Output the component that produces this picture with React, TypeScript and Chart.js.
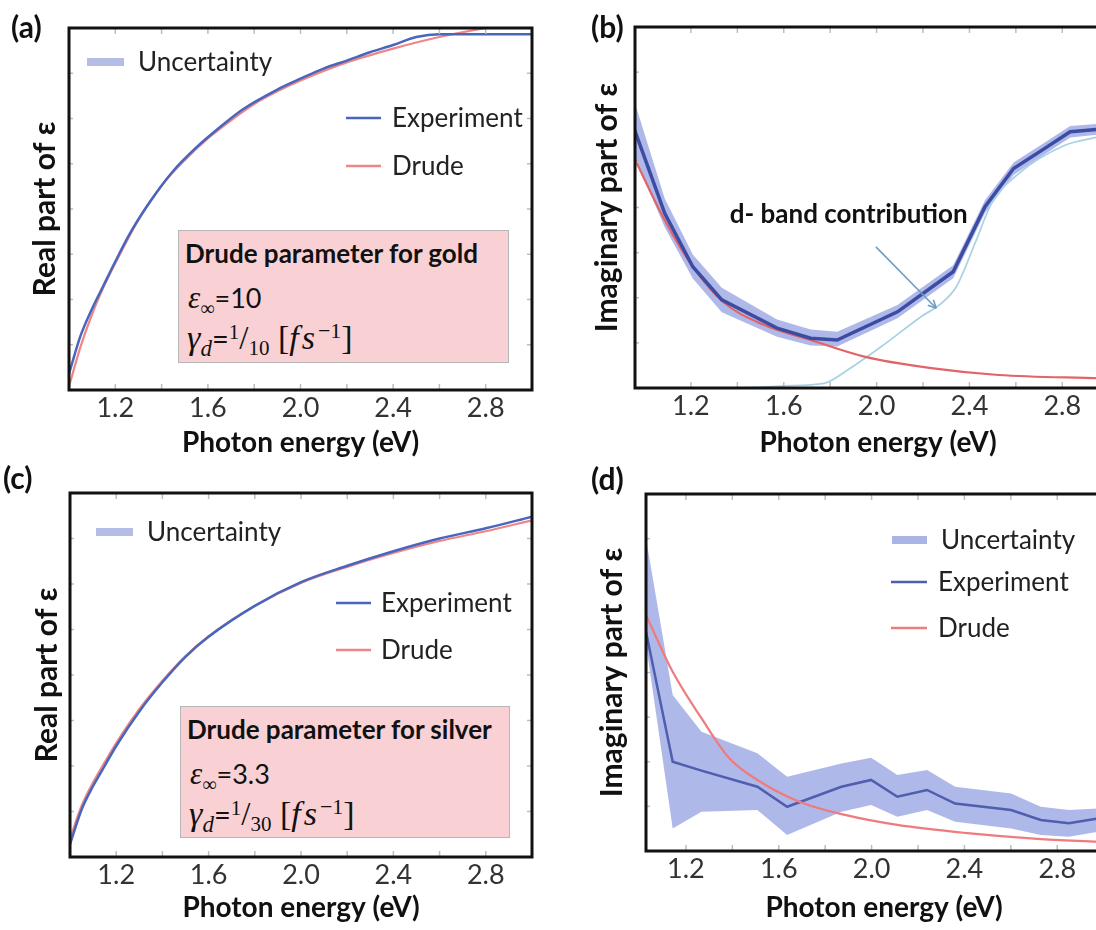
import React, { useEffect, useRef } from 'react';
import { Chart, registerables } from 'chart.js';

Chart.register(...registerables);
Chart.defaults.font.family = 'Lato';

// ---------------- data ----------------
const X_LABEL_TICKS = [1.2, 1.6, 2.0, 2.4, 2.8];
const X_MINOR_TICKS = [1.2, 1.4, 1.6, 1.8, 2.0, 2.2, 2.4, 2.6, 2.8];
const Y_MINOR_TICKS = [12.5, 25, 37.5, 50, 62.5, 75, 87.5];

// (a) gold, real part (arbitrary units, 0 = bottom of axis, 100 = top)
const GOLD_RE_EXP_E = [1.0, 1.05, 1.1, 1.15, 1.2, 1.27, 1.35, 1.45, 1.55, 1.65, 1.75, 1.9, 2.0, 2.1, 2.2, 2.3, 2.4, 2.5, 2.6, 2.8, 3.0];
const GOLD_RE_EXP_V = [4.5, 15, 22.5, 29, 35.5, 44, 52, 60.5, 67, 72.5, 77.5, 83, 86, 88.8, 91, 93.3, 95.3, 97.5, 98.3, 98.3, 98.3];
const GOLD_RE_DRUDE_E = [1.0, 1.05, 1.1, 1.15, 1.2, 1.3, 1.4, 1.5, 1.6, 1.7, 1.8, 1.9, 2.0, 2.2, 2.4, 2.6, 2.8, 3.0];
const GOLD_RE_DRUDE_V = [1, 12, 21, 28.5, 35, 47, 56.5, 63.5, 69.5, 74.5, 79, 82.5, 85.5, 90.5, 94.3, 97.5, 100, 102];

// (b) gold, imaginary part
const GOLD_IM_EXP_E = [0.957, 1.087, 1.208, 1.333, 1.571, 1.716, 1.83, 2.09, 2.33, 2.467, 2.59, 2.713, 2.834, 2.96];
const GOLD_IM_EXP_V = [71.5, 48.4, 33.6, 24.4, 16.6, 13.8, 13.3, 21.1, 32.2, 50.2, 60.8, 65.9, 71, 71.7];
const GOLD_IM_UP_V = [79.3, 52.5, 37, 27.8, 19, 16.2, 15.6, 23, 34, 52, 62.5, 67.5, 72.6, 73.2];
const GOLD_IM_LO_V = [64.1, 44.5, 30.3, 21, 14.2, 11.8, 11.5, 19.3, 30.4, 48.5, 59, 64.3, 69.4, 70.2];
const GOLD_IM_DRUDE_E = [0.957, 1.087, 1.208, 1.338, 1.513, 1.716, 1.947, 2.236, 2.525, 2.96];
const GOLD_IM_DRUDE_V = [63.6, 46.5, 33.6, 23.9, 17.5, 13.3, 8.7, 5.5, 3.6, 2.7];
const GOLD_IM_DBAND_E = [0.957, 1.41, 1.6, 1.773, 1.875, 2.019, 2.193, 2.28, 2.344, 2.424, 2.496, 2.612, 2.814, 2.96];
const GOLD_IM_DBAND_V = [0, 0, 0.6, 1.3, 5, 11.4, 19.8, 23.5, 28.1, 40.1, 51.2, 59.4, 67.3, 69.6];

// (c) silver, real part
const SILVER_RE_EXP_E = [1.0, 1.05, 1.1, 1.15, 1.2, 1.3, 1.4, 1.5, 1.6, 1.8, 2.0, 2.2, 2.4, 2.6, 2.8, 3.0];
const SILVER_RE_EXP_V = [3.5, 13, 19.5, 25, 30.5, 40, 48, 55, 60.5, 69, 75.5, 80, 84, 87.5, 90.3, 93.5];
const SILVER_RE_DRUDE_E = [1.0, 1.05, 1.1, 1.15, 1.2, 1.3, 1.4, 1.5, 1.6, 1.8, 2.0, 2.2, 2.4, 2.6, 2.8, 3.0];
const SILVER_RE_DRUDE_V = [5, 14, 20.5, 26, 31.3, 40.6, 48.4, 55.2, 60.7, 69, 75.3, 79.7, 83.5, 86.8, 89.5, 92.5];

// (d) silver, imaginary part
const SILVER_IM_EXP_E = [1.028, 1.143, 1.267, 1.508, 1.636, 1.87, 1.998, 2.111, 2.239, 2.36, 2.601, 2.729, 2.85, 2.975];
const SILVER_IM_EXP_V = [61.4, 25, 22.5, 18, 12.4, 18, 19.9, 15.2, 17.1, 13.3, 11.5, 8.7, 7.8, 9.1];
const SILVER_IM_UP_V = [87.6, 43.7, 33.4, 27.4, 20.8, 24.5, 26.1, 21.3, 22.7, 18, 16.1, 12.4, 11.5, 11.9];
const SILVER_IM_LO_V = [58, 6.3, 11, 11.5, 4.5, 11, 12.9, 9.6, 11.5, 8.2, 6.3, 4.5, 4.0, 5.4];
const SILVER_IM_DRUDE_E = [1.028, 1.143, 1.267, 1.387, 1.508, 1.689, 1.885, 2.111, 2.413, 2.714, 2.975];
const SILVER_IM_DRUDE_V = [66.1, 50.2, 37.2, 26, 19.9, 13.8, 10.1, 7.3, 5, 3.4, 2.6];

// ---------------- helpers ----------------
const pts = (e: number[], v: number[]) => e.map((x, i) => ({ x, y: v[i] }));

const BAND = 'rgba(95,115,212,0.5)';
const FONT = 'Lato';
const MATH = '"Liberation Serif", "DejaVu Serif", serif';

type LegendItem = { label: string; kind: 'band' | 'line'; color: string; x1: number; x2: number; y: number; tx: number };
type Note = { text: string; tx: number; ty: number; ax0: number; ay0: number; ax1: number; ay1: number };

const decorPlugin = {
  id: 'decor',
  afterDatasetsDraw(chart: any, _args: any, opts: any) {
    const { ctx, chartArea: a, scales } = chart;
    const xs = scales.x;
    const ys = scales.y;
    const seg = (x0: number, y0: number, x1: number, y1: number) => {
      ctx.beginPath();
      ctx.moveTo(x0, y0);
      ctx.lineTo(x1, y1);
      ctx.stroke();
    };
    ctx.save();
    // minor ticks (inside)
    ctx.strokeStyle = '#bdbdbd';
    ctx.lineWidth = 1.5;
    for (const v of X_MINOR_TICKS) {
      const px = xs.getPixelForValue(v);
      if (px < a.left + 3 || px > a.right - 3) continue;
      seg(px, a.bottom, px, a.bottom - 6);
      seg(px, a.top, px, a.top + 6);
    }
    for (const v of Y_MINOR_TICKS) {
      const py = ys.getPixelForValue(v);
      seg(a.left, py, a.left + 4, py);
      if (opts.frameRight) seg(a.right, py, a.right - 5, py);
    }
    // frame
    ctx.strokeStyle = '#111';
    ctx.lineWidth = 3;
    ctx.beginPath();
    if (opts.frameRight) {
      ctx.rect(a.left, a.top, a.right - a.left, a.bottom - a.top);
    } else {
      ctx.moveTo(a.right + 2, a.top);
      ctx.lineTo(a.left, a.top);
      ctx.lineTo(a.left, a.bottom);
      ctx.lineTo(a.right + 2, a.bottom);
    }
    ctx.stroke();
    // legend
    ctx.textBaseline = 'middle';
    ctx.textAlign = 'left';
    ctx.font = `26px ${FONT}`;
    for (const it of (opts.legend || []) as LegendItem[]) {
      ctx.strokeStyle = it.color;
      ctx.lineWidth = it.kind === 'band' ? 8 : 2.5;
      seg(it.x1, it.y, it.x2, it.y);
      ctx.fillStyle = '#222';
      ctx.fillText(it.label, it.tx, it.y + 1);
    }
    // annotations (data coordinates)
    for (const n of (opts.notes || []) as Note[]) {
      ctx.fillStyle = '#111';
      ctx.font = `bold 26px ${FONT}`;
      ctx.textAlign = 'center';
      ctx.fillText(n.text, xs.getPixelForValue(n.tx), ys.getPixelForValue(n.ty));
      const x0 = xs.getPixelForValue(n.ax0), y0 = ys.getPixelForValue(n.ay0);
      const x1 = xs.getPixelForValue(n.ax1), y1 = ys.getPixelForValue(n.ay1);
      ctx.strokeStyle = '#6f9dc2';
      ctx.lineWidth = 1.6;
      seg(x0, y0, x1, y1);
      const ang = Math.atan2(y1 - y0, x1 - x0);
      for (const d of [-0.45, 0.45]) {
        seg(x1, y1, x1 - 9 * Math.cos(ang + d), y1 - 9 * Math.sin(ang + d));
      }
    }
    ctx.restore();
  },
};

type Panel = {
  left: number; top: number; width: number;
  xMin: number; xMax: number;
  pad: { left: number; top: number; right: number; bottom: number };
  yW: number; xH: number; yTitlePad: number;
  yTitle: string;
  datasets: any[];
  legend: LegendItem[];
  notes?: Note[];
  frameRight: boolean;
};

const line = (data: any[], color: string, width: number, smooth: boolean) => ({
  data, borderColor: color, borderWidth: width, pointRadius: 0, fill: false,
  cubicInterpolationMode: smooth ? 'monotone' : 'default', tension: 0,
});
const bandUpper = (data: any[]) => ({ data, borderWidth: 0, pointRadius: 0, fill: false, borderColor: 'transparent' });
const bandLower = (data: any[]) => ({ data, borderWidth: 0, pointRadius: 0, fill: '-1', backgroundColor: BAND, borderColor: 'transparent' });

// (b) and (d) are wider than the page; the wrapper clips them at the right edge like the reference.
const PANELS: Panel[] = [
  {
    left: 0, top: 0, width: 548, xMin: 1.0, xMax: 3.0,
    pad: { left: 24, top: 28, right: 16, bottom: 4 }, yW: 45, xH: 71, yTitlePad: 3.5,
    yTitle: 'Real part of ε', frameRight: true,
    datasets: [
      line(pts(GOLD_RE_EXP_E, GOLD_RE_EXP_V), '#4866bb', 2.5, true),
      line(pts(GOLD_RE_DRUDE_E, GOLD_RE_DRUDE_V), '#ef8587', 2.2, true),
    ],
    legend: [
      { label: 'Uncertainty', kind: 'band', color: '#b3bde6', x1: 87, x2: 124, y: 62, tx: 138 },
      { label: 'Experiment', kind: 'line', color: '#4866bb', x1: 346, x2: 381, y: 118, tx: 392 },
      { label: 'Drude', kind: 'line', color: '#ef8587', x1: 346, x2: 381, y: 166, tx: 392 },
    ],
  },
  {
    left: 548, top: 0, width: 573, xMin: 0.959, xMax: 3.053,
    pad: { left: 38, top: 27, right: 0, bottom: 4 }, yW: 49, xH: 73, yTitlePad: 3.5,
    yTitle: 'Imaginary part of ε', frameRight: false,
    datasets: [
      line(pts(GOLD_IM_EXP_E, GOLD_IM_EXP_V), '#3c4ca3', 3.5, false),
      line(pts(GOLD_IM_DRUDE_E, GOLD_IM_DRUDE_V), '#e36466', 2.2, true),
      line(pts(GOLD_IM_DBAND_E, GOLD_IM_DBAND_V), '#a9d3e4', 1.8, true),
      bandUpper(pts(GOLD_IM_EXP_E, GOLD_IM_UP_V)),
      bandLower(pts(GOLD_IM_EXP_E, GOLD_IM_LO_V)),
    ],
    legend: [],
    notes: [{ text: 'd- band contribution', tx: 1.88, ty: 48, ax0: 1.997, ay0: 39.1, ax1: 2.257, ay1: 22.1 }],
  },
  {
    left: 0, top: 465, width: 548, xMin: 1.0, xMax: 3.0,
    pad: { left: 25, top: 28, right: 16, bottom: 4 }, yW: 45, xH: 69, yTitlePad: 4,
    yTitle: 'Real part of ε', frameRight: true,
    datasets: [
      line(pts(SILVER_RE_EXP_E, SILVER_RE_EXP_V), '#4866bb', 2.5, true),
      line(pts(SILVER_RE_DRUDE_E, SILVER_RE_DRUDE_V), '#ef8587', 2.2, true),
    ],
    legend: [
      { label: 'Uncertainty', kind: 'band', color: '#b3bde6', x1: 96, x2: 133, y: 67, tx: 147 },
      { label: 'Experiment', kind: 'line', color: '#4866bb', x1: 336, x2: 371, y: 138, tx: 381 },
      { label: 'Drude', kind: 'line', color: '#ef8587', x1: 336, x2: 371, y: 185, tx: 381 },
    ],
  },
  {
    left: 548, top: 465, width: 574, xMin: 1.028, xMax: 3.079,
    pad: { left: 42, top: 29, right: 0, bottom: 4 }, yW: 56, xH: 75, yTitlePad: 4,
    yTitle: 'Imaginary part of ε', frameRight: false,
    datasets: [
      line(pts(SILVER_IM_DRUDE_E, SILVER_IM_DRUDE_V), '#ee7b7d', 2.2, true),
      line(pts(SILVER_IM_EXP_E, SILVER_IM_EXP_V), '#4f5eae', 2.5, false),
      bandUpper(pts(SILVER_IM_EXP_E, SILVER_IM_UP_V)),
      bandLower(pts(SILVER_IM_EXP_E, SILVER_IM_LO_V)),
    ],
    legend: [
      { label: 'Uncertainty', kind: 'band', color: '#aab5e5', x1: 344, x2: 379, y: 75, tx: 393 },
      { label: 'Experiment', kind: 'line', color: '#4f5eae', x1: 343, x2: 379, y: 117, tx: 390 },
      { label: 'Drude', kind: 'line', color: '#ee7b7d', x1: 343, x2: 379, y: 163, tx: 390 },
    ],
  },
];

function PanelChart({ p }: { p: Panel }) {
  const ref = useRef<HTMLCanvasElement>(null);
  useEffect(() => {
    if (!ref.current) return;
    const chart = new Chart(ref.current, {
      type: 'line',
      data: { datasets: p.datasets },
      plugins: [decorPlugin],
      options: {
        responsive: false,
        maintainAspectRatio: false,
        animation: false,
        layout: { padding: p.pad },
        plugins: {
          legend: { display: false },
          tooltip: { enabled: false },
          decor: { legend: p.legend, notes: p.notes, frameRight: p.frameRight },
        } as any,
        scales: {
          x: {
            type: 'linear', min: p.xMin, max: p.xMax,
            afterBuildTicks: (s: any) => { s.ticks = X_LABEL_TICKS.map((v) => ({ value: v })); },
            afterFit: (s: any) => { s.height = p.xH; },
            ticks: {
              callback: (v: any) => Number(v).toFixed(1),
              font: { family: FONT, size: 27 }, color: '#333', padding: -6,
              maxRotation: 0, autoSkip: false,
            },
            grid: { display: false },
            border: { display: false },
            title: {
              display: true, text: 'Photon energy (eV)', color: '#111',
              font: { family: FONT, size: 28, weight: 'bold' }, padding: { top: 0, bottom: 1 },
            },
          },
          y: {
            type: 'linear', min: 0, max: 100,
            afterFit: (s: any) => { s.width = p.yW; },
            ticks: { display: false },
            grid: { display: false },
            border: { display: false },
            title: {
              display: true, text: p.yTitle, color: '#111',
              font: { family: FONT, size: 30, weight: 'bold' }, padding: { top: p.yTitlePad, bottom: 0 },
            },
          },
        },
      } as any,
    });
    return () => chart.destroy();
  }, [p]);
  return (
    <canvas ref={ref} width={p.width} height={465}
      style={{ position: 'absolute', left: p.left, top: p.top, width: p.width, height: 465 }} />
  );
}

const abs = (l: number, t: number, extra: any = {}) => ({ position: 'absolute' as const, left: l, top: t, whiteSpace: 'nowrap' as const, ...extra });

function DrudeBox({ left, top, w, h, metal, eps, gammaDen }: { left: number; top: number; w: number; h: number; metal: string; eps: string; gammaDen: string }) {
  const txt = { fontFamily: FONT, fontSize: 27, color: '#111', lineHeight: '34px' };
  const m = (size: number, italic: boolean, shift = 0, extra: any = {}) => ({
    fontFamily: MATH, fontStyle: italic ? 'italic' : 'normal', fontSize: size, position: 'relative' as const, top: shift, ...extra,
  });
  return (
    <div style={abs(left, top, { width: w, height: h, background: '#f9d1d4', border: '1.5px solid #b7b7b7', boxSizing: 'border-box' })}>
      <div style={abs(6, 5, { ...txt, fontWeight: 'bold', fontSize: 26 })}>{`Drude parameter for ${metal}`}</div>
      <div style={abs(9, 50, txt)}>
        <span style={m(31, true)}>ε</span>
        <span style={m(20, false, 7)}>∞</span>
        <span>{`=${eps}`}</span>
      </div>
      <div style={abs(8, 90, txt)}>
        <span style={m(34, true)}>γ</span>
        <span style={m(23, true, 7)}>d</span>
        <span style={{ fontSize: 29 }}>=</span>
        <span style={m(21, false, -10)}>1</span>
        <span style={m(33, false)}>/</span>
        <span style={m(21, false, 6)}>{gammaDen}</span>
        <span style={m(34, false)}>{' ['}</span>
        <span style={m(34, true, 0, { letterSpacing: 3 })}>fs</span>
        <span style={m(22, false, -11)}>−1</span>
        <span style={m(34, false)}>]</span>
      </div>
    </div>
  );
}

const PANEL_LABELS = [
  { t: '(a)', l: 11, y: 26 },
  { t: '(b)', l: 591, y: 26 },
  { t: '(c)', l: 3, y: 477 },
  { t: '(d)', l: 591, y: 478 },
];

export default function App() {
  return (
    <div style={{ position: 'absolute', left: 0, top: 0, width: 1096, height: 930, overflow: 'hidden', background: '#fff' }}>
      {PANELS.map((p, i) => <PanelChart key={i} p={p} />)}
      {PANEL_LABELS.map((l) => (
        <div key={l.t} style={abs(l.l, l.y - 18, { fontFamily: FONT, fontWeight: 'bold', fontSize: 30, lineHeight: '36px', color: '#111' })}>{l.t}</div>
      ))}
      <DrudeBox left={178} top={230} w={331} h={133} metal="gold" eps="10" gammaDen="10" />
      <DrudeBox left={180} top={706} w={330} h={132} metal="silver" eps="3.3" gammaDen="30" />
    </div>
  );
}
